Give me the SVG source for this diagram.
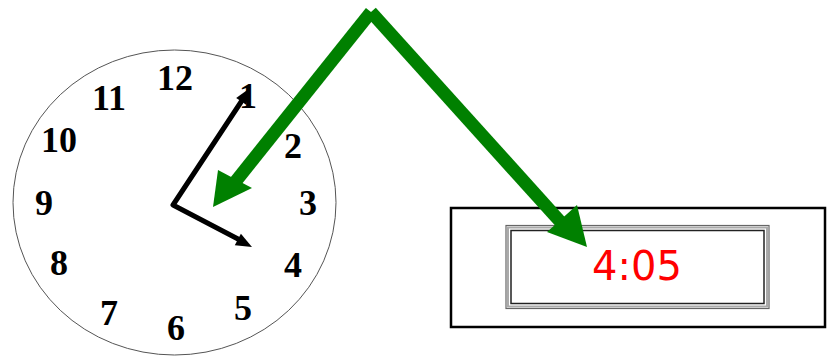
<svg xmlns="http://www.w3.org/2000/svg" width="834" height="358" viewBox="0 0 834 358">
<style>
.num{font-family:"Liberation Serif",serif;font-weight:bold;font-size:36px;fill:#000;text-anchor:middle}
.hand{stroke:#000;stroke-width:5;fill:none;stroke-linecap:round;stroke-linejoin:round}
.green{stroke:#008000;stroke-width:13;fill:none;stroke-linecap:butt}
</style>
<rect width="834" height="358" fill="#fff"/>
<g id="analog-clock">
<ellipse cx="174.5" cy="202.5" rx="161.5" ry="152.5" fill="#fff" stroke="#555" stroke-width="1"/>
<text class="num" x="175" y="90">12</text>
<text class="num" x="109" y="110">11</text>
<text class="num" x="59" y="152">10</text>
<text class="num" x="44" y="215">9</text>
<text class="num" x="59" y="275">8</text>
<text class="num" x="109" y="325">7</text>
<text class="num" x="176" y="340">6</text>
<text class="num" x="243" y="320">5</text>
<text class="num" x="293" y="277">4</text>
<text class="num" x="308" y="215">3</text>
<text class="num" x="293" y="158">2</text>
<text class="num" x="248" y="108">1</text>
<path class="hand" d="M241,102 L173,205 L238,239"/>
<polygon points="250,88 246.2,104.7 236.2,98.1" fill="#000"/>
<polygon points="252,247 234.8,245.2 240.9,233.8" fill="#000"/>
</g>
<g id="digital-clock">
<rect x="451" y="208" width="374" height="119" fill="#fff" stroke="#000" stroke-width="2.5"/>
<rect x="506" y="225.5" width="263" height="83" fill="none" stroke="#666" stroke-width="1.2"/>
<rect x="508" y="227.5" width="259" height="79" fill="none" stroke="#aaa" stroke-width="2"/>
<rect x="511" y="230.5" width="253" height="73" fill="none" stroke="#222" stroke-width="1.5"/>
<text x="637" y="280" font-family="DejaVu Sans,sans-serif" font-size="40" fill="#ff0000" text-anchor="middle">4:05</text>
</g>
<g id="connectors">
<line class="green" x1="371" y1="12" x2="232" y2="186"/>
<polygon points="213,207 218,170 252,188" fill="#008000"/>
<line class="green" x1="371" y1="12" x2="566" y2="228"/>
<polygon points="587,247 547,232 577,205" fill="#008000"/>
</g>
</svg>
